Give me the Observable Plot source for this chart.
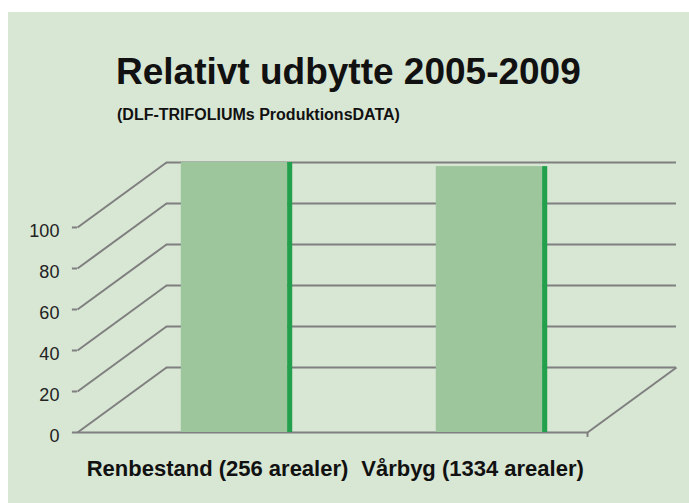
<!DOCTYPE html>
<html><head><meta charset="utf-8">
<script src="https://cdn.jsdelivr.net/npm/d3@7"></script>
<script src="https://cdn.jsdelivr.net/npm/@observablehq/plot@0.6"></script>
<style>
  html,body{margin:0;padding:0;background:#fff;width:689px;height:503px;overflow:hidden;}
  #panel{position:absolute;left:8px;top:12px;width:681px;height:491px;background:#d8e6d4;}
  #title{position:absolute;left:116px;top:51px;font:bold 37px "Liberation Sans",Arial,sans-serif;color:#111;white-space:nowrap;}
  #subtitle{position:absolute;left:117px;top:106px;font:bold 16px "Liberation Sans",Arial,sans-serif;color:#111;white-space:nowrap;}
  #chart{position:absolute;left:0;top:0;}
</style>
</head><body>
<div id="panel"></div>
<div id="title">Relativt udbytte 2005-2009</div>
<div id="subtitle">(DLF-TRIFOLIUMs ProduktionsDATA)</div>
<div id="chart"></div>
<script>
// ---- data ----
const categories = ["Renbestand (256 arealer)", "Vårbyg (1334 arealer)"];
const values = [100, 98];
const yTicks = [0, 20, 40, 60, 80, 100];

// ---- 3D-look layout constants (scale units) ----
const depthX = 0.349;   // back wall offset in category units
const depthY = 31.7;    // back wall offset in value units
const tickLen = 0.02;
const barStart = 0.058, barEnd = 0.475, stripeEnd = 0.495;
const labelPos = 0.2;

const grid = "#7f7f7f";
const rows = categories.map((c, i) => ({cat: c, i, v: values[i]}));

const backLines = yTicks.map(t => ({x1: 0, x2: categories.length, y: t}));
const diagLines = yTicks.map(t => ({x1: -depthX, y1: t - depthY, x2: 0, y2: t}));
const tickMarks = yTicks.map(t => ({x1: -depthX - tickLen, x2: -depthX, y: t - depthY}));
const nC = categories.length;

const chart = Plot.plot({
  width: 689, height: 503,
  marginLeft: 166, marginRight: 13, marginTop: 121, marginBottom: 71,
  style: {background: "transparent", overflow: "visible"},
  x: {type: "linear", domain: [0, nC], axis: null},
  y: {type: "linear", domain: [-depthY, 120], axis: null},
  marks: [
    Plot.ruleY(backLines, {y: "y", x1: "x1", x2: "x2", stroke: grid, strokeWidth: 2}),
    Plot.link(diagLines, {x1: "x1", y1: "y1", x2: "x2", y2: "y2", stroke: grid, strokeWidth: 2}),
    Plot.ruleY(tickMarks, {y: "y", x1: "x1", x2: "x2", stroke: grid, strokeWidth: 2}),
    Plot.ruleY([{y: -depthY}], {y: "y", x1: -depthX, x2: nC - depthX, stroke: grid, strokeWidth: 2}),
    Plot.link([{}], {x1: nC - depthX, y1: -depthY, x2: nC, y2: 0, stroke: grid, strokeWidth: 2}),
    Plot.ruleX([nC - depthX], {y1: -depthY, y2: -depthY - 2.4, stroke: grid, strokeWidth: 2}),
    Plot.rectY(rows, {x1: d => d.i + barStart, x2: d => d.i + barEnd, y1: -depthY, y2: "v", fill: "#9dc69d"}),
    Plot.rectY(rows, {x1: d => d.i + barEnd, x2: d => d.i + stripeEnd, y1: -depthY, y2: "v", fill: "#22a04b"}),
    Plot.text(yTicks, {x: -depthX - tickLen, y: t => t - depthY, text: t => String(t), textAnchor: "end", dx: -13, dy: 4, fontSize: 18, fill: "#222", fontFamily: "Liberation Sans, Arial, sans-serif"}),
    Plot.text(rows, {x: d => d.i + labelPos, y: -depthY, text: "cat", dy: 36, fontSize: 22, fontWeight: "bold", fill: "#111", fontFamily: "Liberation Sans, Arial, sans-serif"})
  ]
});
document.getElementById("chart").appendChild(chart);
</script>
</body></html>
